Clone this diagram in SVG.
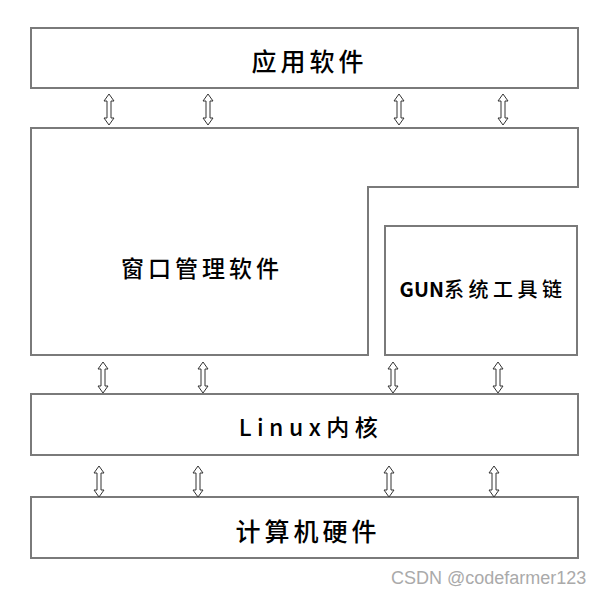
<svg xmlns="http://www.w3.org/2000/svg" width="603" height="593" viewBox="0 0 603 593">
<style>
.box{fill:#fff;stroke:#7a7a7a;stroke-width:2}
.t{font-family:"Noto Sans CJK SC","Liberation Sans",sans-serif;fill:#000;text-anchor:middle;font-weight:500}
.arr{fill:#fff;stroke:#333;stroke-width:1}
.wm{font-family:"Liberation Sans",sans-serif;font-size:18px;fill:#aaa}
</style>
<defs>
<path id="da" d="M0,0 L5,7 L2,7 L2,24 L5,24 L0,31 L-5,24 L-2,24 L-2,7 L-5,7 Z"/>
</defs>
<rect width="603" height="593" fill="#fff"/>
<g id="app"><rect class="box" x="31" y="28" width="547" height="60"/><text class="t" x="309.5" y="71" font-size="25" letter-spacing="4">应用软件</text></g>
<g id="window"><path class="box" d="M31,128 L578,128 L578,187 L368,187 L368,355 L31,355 Z"/><text class="t" x="202" y="277" font-size="23" letter-spacing="4">窗口管理软件</text></g>
<g id="gun"><rect class="box" x="385" y="226" width="192" height="129"/><text class="t" x="483" y="297" font-size="20" letter-spacing="4.5"><tspan font-weight="bold" letter-spacing="0">GUN</tspan>系统工具链</text></g>
<g id="linux"><rect class="box" x="31" y="394" width="547" height="61"/><text class="t" x="311" y="436" font-size="23" letter-spacing="5.5">Linux内核</text></g>
<g id="hw"><rect class="box" x="31" y="497" width="547" height="61"/><text class="t" x="308" y="540.5" font-size="25" letter-spacing="4">计算机硬件</text></g>
<g id="connectors" class="arr">
<use href="#da" x="109" y="94"/><use href="#da" x="208" y="94"/><use href="#da" x="399" y="94"/><use href="#da" x="503" y="94"/>
<use href="#da" x="103" y="362"/><use href="#da" x="203" y="362"/><use href="#da" x="393" y="362"/><use href="#da" x="498" y="362"/>
<use href="#da" x="99" y="466"/><use href="#da" x="198" y="466"/><use href="#da" x="389" y="466"/><use href="#da" x="494" y="466"/>
</g>
<text class="wm" x="391" y="584">CSDN @codefarmer123</text>
</svg>
